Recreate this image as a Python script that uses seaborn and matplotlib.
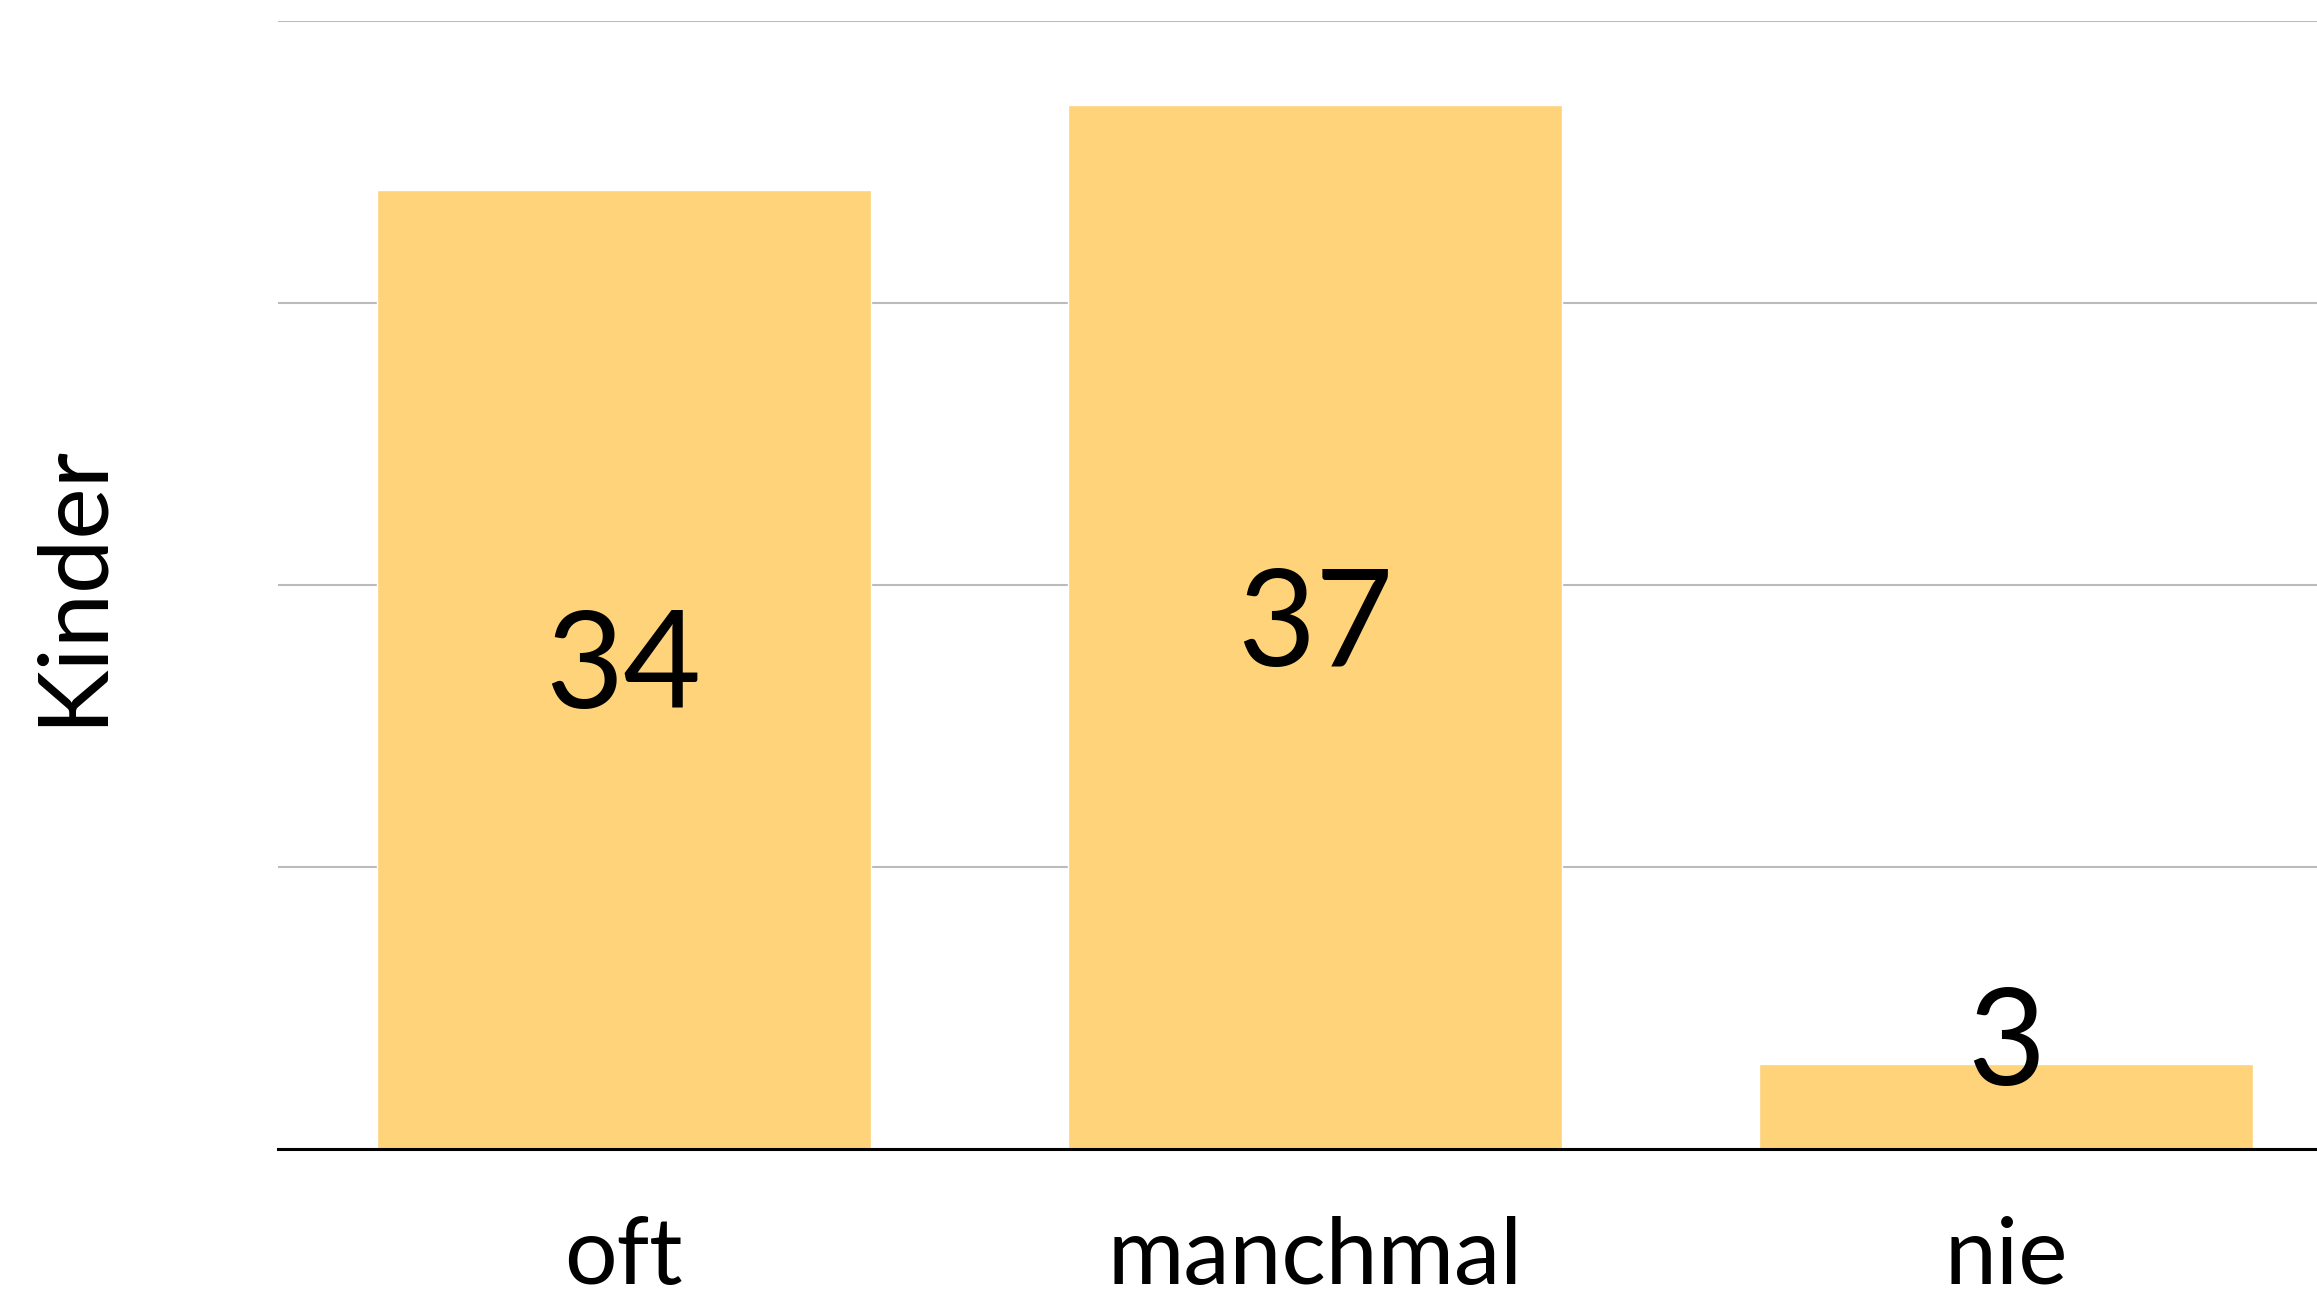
import numpy as np
import pandas as pd
import matplotlib
matplotlib.use('Agg')
import matplotlib.pyplot as plt
import seaborn as sns

categories = ['oft', 'manchmal', 'nie']
values = [34, 37, 3]
y_label = 'Kinder'

sns.set_style(style='whitegrid')
plt.rcParams['font.family'] = ['Lato', 'DejaVu Sans']
plt.rcParams['text.color'] = 'black'
plt.rcParams['xtick.color'] = 'black'
plt.rcParams['axes.labelcolor'] = 'black'

df = pd.DataFrame({'antwort': categories, 'kinder': values})

fig = plt.figure(figsize=(23.17, 13.09), dpi=100)
ax = fig.add_axes([0.12, 0.1222, 0.88, 0.862])

sns.barplot(data=df, x='antwort', y='kinder', color='#FED37A', saturation=1,
            width=0.715, ax=ax, zorder=2)

ax.set_ylim(0, 40)
ax.set_xlim(-0.5, 2.45)
ax.set_yticks([0, 10, 20, 30, 40])
ax.set_yticklabels([])
ax.tick_params(axis='y', length=0)
ax.tick_params(axis='x', length=0, pad=48, labelsize=67)
ax.grid(axis='y', color='#bbbbbb', linewidth=1.5, zorder=0)
ax.grid(axis='x', visible=False)
ax.set_axisbelow(True)

for side in ['top', 'right', 'left']:
    ax.spines[side].set_visible(False)
ax.spines['bottom'].set_color('black')
ax.spines['bottom'].set_linewidth(2.2)
ax.spines['bottom'].set_zorder(3)

ax.set_xlabel('')
ax.set_ylabel(y_label, fontsize=70)
ax.yaxis.set_label_coords(-0.079, 0.5)

# Werte in die Balken schreiben
for i, v in enumerate(values):
    ax.text(i, max(v / 2, 3.65), str(v), ha='center', va='center',
            fontsize=97, color='black', zorder=4)

fig.savefig('out.png', dpi=100)
